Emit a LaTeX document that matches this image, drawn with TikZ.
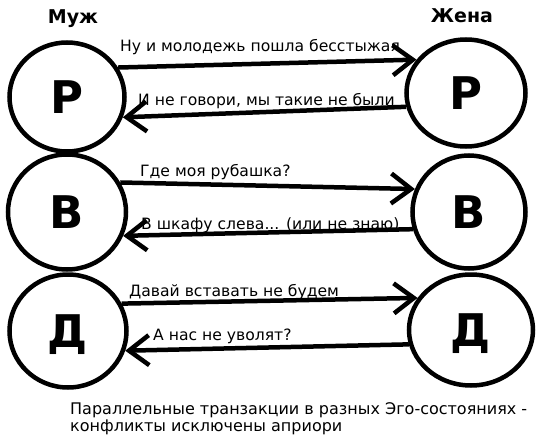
\documentclass[tikz,border=0pt]{standalone}
\usepackage{fontspec}
\setmainfont{DejaVu Sans}
\usetikzlibrary{arrows.meta,shapes.geometric}
\begin{document}
\begin{tikzpicture}[x=1pt,y=-1pt,
  ego/.style={ellipse,draw,line width=4.5pt,inner sep=0pt,
    font=\fontsize{45}{45}\selectfont\bfseries,text depth=0pt},
  who/.style={font=\fontsize{19}{19}\selectfont\bfseries,inner sep=0pt},
  msg/.style={font=\fontsize{15.6}{15.6}\selectfont,inner sep=0pt,anchor=base west},
  tr/.style={line width=4.5pt,-{Straight Barb[length=20pt,width=30pt]}}]
\useasboundingbox (0,0) rectangle (542,439);
\node[ego,minimum width=115pt,minimum height=109pt] (m1) at (67,97) {Р};
\node[ego,minimum width=118pt,minimum height=115pt] (m2) at (67,212) {В};
\node[ego,minimum width=117pt,minimum height=113pt] (m3) at (68,331) {Д};
\node[ego,minimum width=119pt,minimum height=107pt] (w1) at (466,93) {Р};
\node[ego,minimum width=113pt,minimum height=113pt] (w2) at (469,212) {В};
\node[ego,minimum width=124pt,minimum height=111pt] (w3) at (471,330) {Д};
\node[who] (muzh) at (73,19) {Муж};
\node[who] (zhena) at (462,16) {Жена};
\draw[tr] (m1.30) -- (w1.146);
\draw[tr] (w1.193) -- (m1.-20);
\draw[tr] (m2.29) -- (w2.157);
\draw[tr] (w2.197) -- (m2.-23);
\draw[tr] (m3.27) -- (w3.149);
\draw[tr] (w3.193) -- (m3.-19);
\node[msg] (t1) at (120,51.7) {Ну и молодежь пошла бесстыжая};
\node[msg] (t2) at (138,105) {И не говори, мы такие не были};
\node[msg] (t3) at (140,176) {Где моя рубашка?};
\node[msg] (t4) at (141,229) {В шкафу слева... (или не знаю)};
\node[msg] (t5) at (129,296.5) {Давай вставать не будем};
\node[msg] (t6) at (153,340) {А нас не уволят?};
\node[msg,font=\fontsize{16}{16}\selectfont] (c1) at (70,414.5) {Параллельные транзакции в разных Эго-состояниях -};
\node[msg,font=\fontsize{16}{16}\selectfont] (c2) at (70,431.5) {конфликты исключены априори};
\end{tikzpicture}
\end{document}
